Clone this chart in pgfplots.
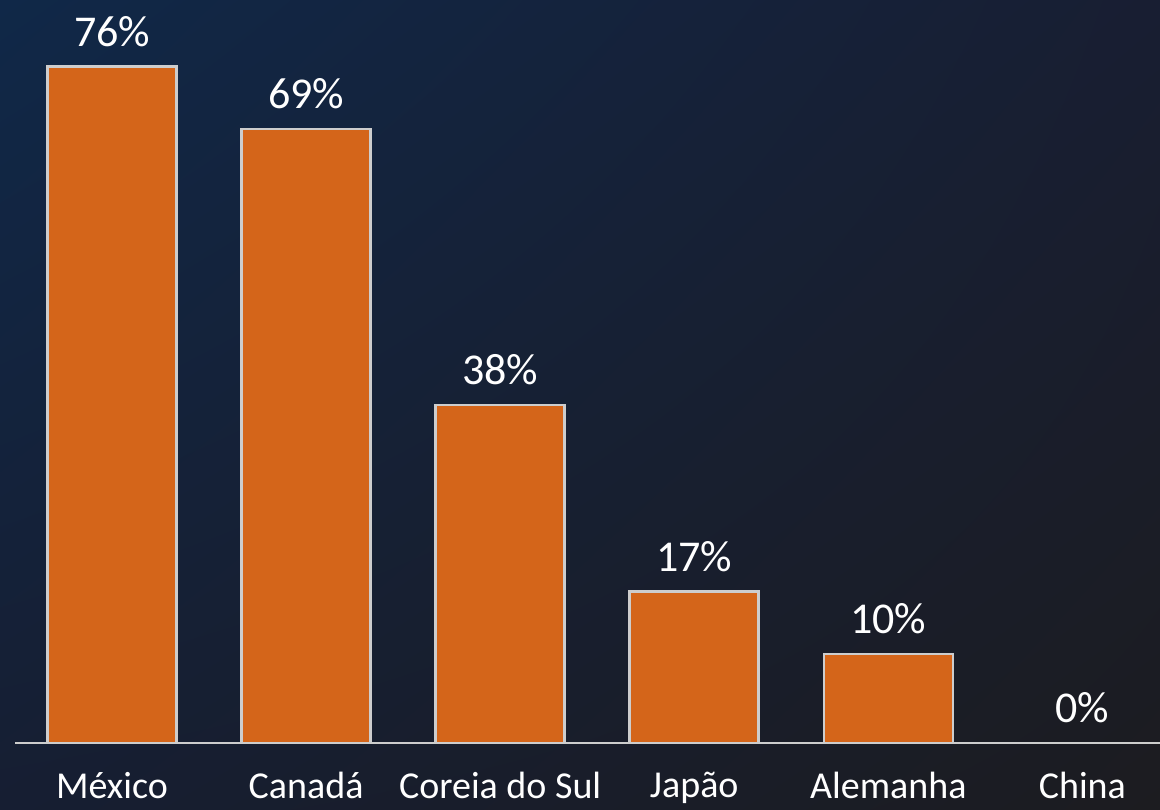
\documentclass[border=0pt]{standalone}
\usepackage{pgfplots}
\pgfplotsset{compat=1.18}
\usetikzlibrary{shadings}
\usepackage{fontspec}
\setmainfont{Carlito}
\definecolor{barorange}{RGB}{212,101,26}
\definecolor{baredge}{RGB}{205,205,205}
\definecolor{bgUL}{RGB}{16,40,72}
\definecolor{bgUR}{RGB}{24,30,50}
\definecolor{bgLL}{RGB}{22,30,50}
\definecolor{bgLR}{RGB}{28,28,32}
\begin{document}
\begin{tikzpicture}
\shade[upper left=bgUL, upper right=bgUR, lower left=bgLL, lower right=bgLR] (0,0) rectangle (580pt,404.5pt);
\path[use as bounding box] (0,0) rectangle (580pt,404.5pt);
\begin{axis}[
  at={(7.5pt,33pt)}, anchor=south west,
  scale only axis, width=572.5pt, height=371.5pt,
  xmin=-0.5, xmax=5.4, ymin=0, ymax=83.5,
  axis x line*=bottom, axis y line=none,
  x axis line style={draw=baredge, line width=1pt, -},
  xtick=data,
  xticklabels={México, Canadá, Coreia do Sul, Japão, Alemanha, China},
  major tick length=0pt,
  xticklabel style={font=\fontsize{19}{22}\selectfont, text=white, yshift=-11pt},
  ybar, bar width=64.5pt,
  nodes near coords,
  point meta=explicit symbolic,
  every node near coord/.append style={font=\fontsize{22}{26}\selectfont, text=white, yshift=6pt},
  clip=false,
]
\addplot[fill=barorange, draw=baredge, line width=1.3pt] table[meta=lab] {
x y lab
0 76 76\%
1 69 69\%
2 38 38\%
3 17 17\%
4 10 10\%
5 0 0\%
};
\end{axis}
\end{tikzpicture}
\end{document}
